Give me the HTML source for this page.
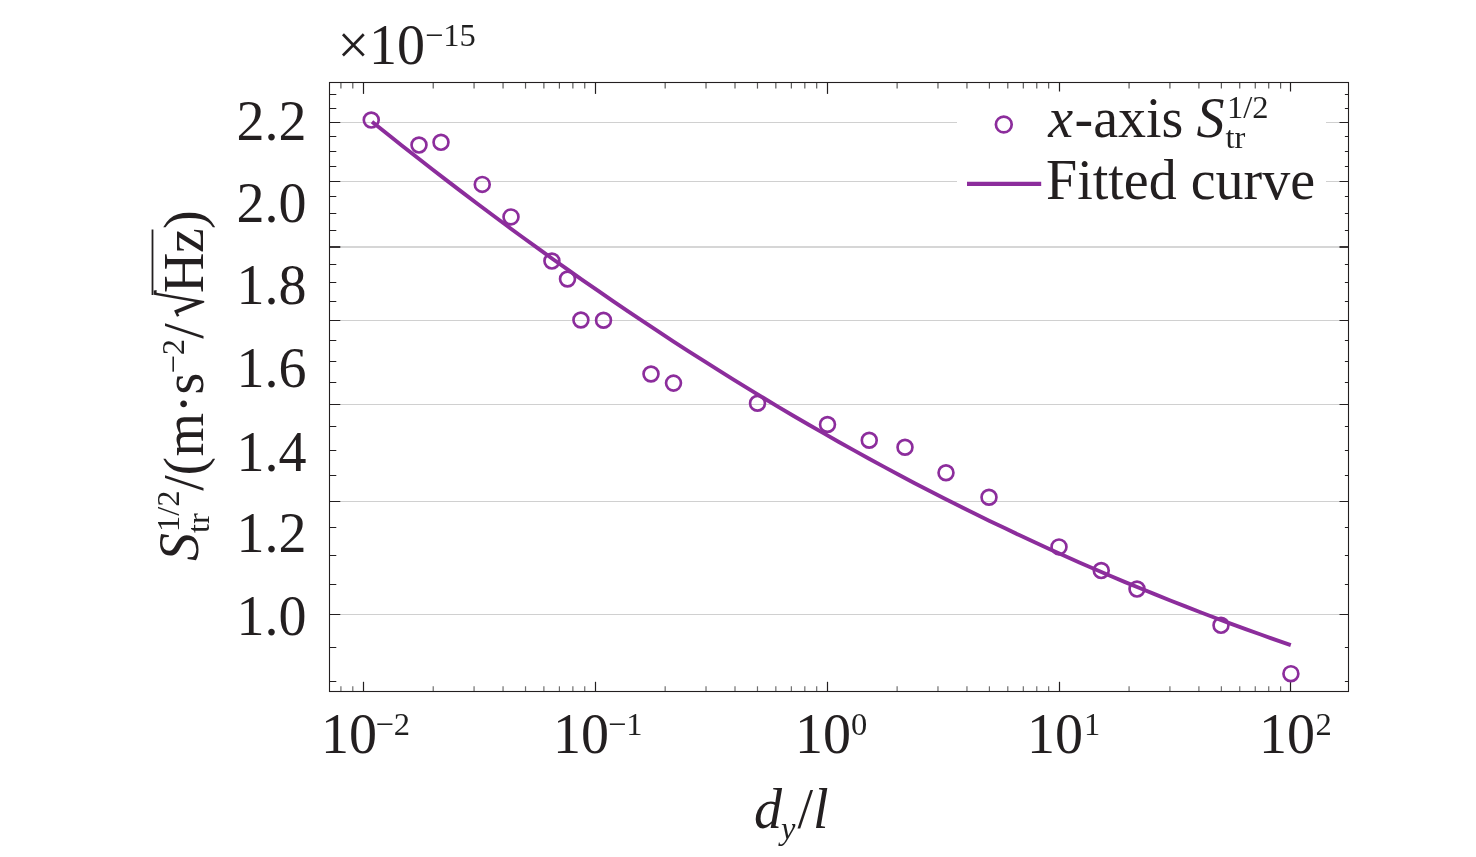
<!DOCTYPE html>
<html lang="en"><head><meta charset="utf-8"><title>Fitted curve plot</title>
<style>html,body{margin:0;padding:0;background:#fff;overflow:hidden}svg{display:block}text{font-family:"Liberation Serif","DejaVu Serif",serif;fill:#231f20;font-size:56px}.i{font-style:italic}.s{font-size:32.5px;filter:grayscale(1)}</style></head><body>
<svg width="1476" height="857" viewBox="0 0 1476 857">
<rect width="1476" height="857" fill="#fff"/>
<g stroke="#d0d0d0" stroke-width="1" fill="none">
<line x1="339.5" y1="122.5" x2="1340.5" y2="122.5"/>
<line x1="339.5" y1="181.5" x2="1340.5" y2="181.5"/>
<line x1="339.5" y1="320.5" x2="1340.5" y2="320.5"/>
<line x1="339.5" y1="404.5" x2="1340.5" y2="404.5"/>
<line x1="339.5" y1="501.5" x2="1340.5" y2="501.5"/>
<line x1="339.5" y1="614.5" x2="1340.5" y2="614.5"/>
<line x1="339.5" y1="247.00" x2="1340.5" y2="247.00" stroke-width="1.6" stroke="#c8c8c8"/>
</g>
<rect x="957" y="90" width="369" height="140" fill="#fff"/>
<g stroke="#231f20" stroke-width="1" fill="none">
<line x1="329.5" y1="681.5" x2="336.3" y2="681.5"/>
<line x1="1344.9" y1="681.5" x2="1348.5" y2="681.5"/>
<line x1="329.5" y1="647.5" x2="336.3" y2="647.5"/>
<line x1="1344.9" y1="647.5" x2="1348.5" y2="647.5"/>
<line x1="329.5" y1="614.5" x2="340.3" y2="614.5"/>
<line x1="1339.5" y1="614.5" x2="1348.5" y2="614.5"/>
<line x1="329.5" y1="584.5" x2="336.3" y2="584.5"/>
<line x1="1344.9" y1="584.5" x2="1348.5" y2="584.5"/>
<line x1="329.5" y1="555.5" x2="336.3" y2="555.5"/>
<line x1="1344.9" y1="555.5" x2="1348.5" y2="555.5"/>
<line x1="329.5" y1="527.5" x2="336.3" y2="527.5"/>
<line x1="1344.9" y1="527.5" x2="1348.5" y2="527.5"/>
<line x1="329.5" y1="501.5" x2="340.3" y2="501.5"/>
<line x1="1339.5" y1="501.5" x2="1348.5" y2="501.5"/>
<line x1="329.5" y1="475.5" x2="336.3" y2="475.5"/>
<line x1="1344.9" y1="475.5" x2="1348.5" y2="475.5"/>
<line x1="329.5" y1="450.5" x2="336.3" y2="450.5"/>
<line x1="1344.9" y1="450.5" x2="1348.5" y2="450.5"/>
<line x1="329.5" y1="426.5" x2="336.3" y2="426.5"/>
<line x1="1344.9" y1="426.5" x2="1348.5" y2="426.5"/>
<line x1="329.5" y1="404.5" x2="340.3" y2="404.5"/>
<line x1="1339.5" y1="404.5" x2="1348.5" y2="404.5"/>
<line x1="329.5" y1="382.5" x2="336.3" y2="382.5"/>
<line x1="1344.9" y1="382.5" x2="1348.5" y2="382.5"/>
<line x1="329.5" y1="361.5" x2="336.3" y2="361.5"/>
<line x1="1344.9" y1="361.5" x2="1348.5" y2="361.5"/>
<line x1="329.5" y1="340.5" x2="336.3" y2="340.5"/>
<line x1="1344.9" y1="340.5" x2="1348.5" y2="340.5"/>
<line x1="329.5" y1="320.5" x2="340.3" y2="320.5"/>
<line x1="1339.5" y1="320.5" x2="1348.5" y2="320.5"/>
<line x1="329.5" y1="301.5" x2="336.3" y2="301.5"/>
<line x1="1344.9" y1="301.5" x2="1348.5" y2="301.5"/>
<line x1="329.5" y1="282.5" x2="336.3" y2="282.5"/>
<line x1="1344.9" y1="282.5" x2="1348.5" y2="282.5"/>
<line x1="329.5" y1="264.5" x2="336.3" y2="264.5"/>
<line x1="1344.9" y1="264.5" x2="1348.5" y2="264.5"/>
<line x1="329.5" y1="247.00" x2="340.3" y2="247.00" stroke-width="1.8"/>
<line x1="1339.5" y1="247.00" x2="1348.5" y2="247.00" stroke-width="1.8"/>
<line x1="329.5" y1="230.5" x2="336.3" y2="230.5"/>
<line x1="1344.9" y1="230.5" x2="1348.5" y2="230.5"/>
<line x1="329.5" y1="213.5" x2="336.3" y2="213.5"/>
<line x1="1344.9" y1="213.5" x2="1348.5" y2="213.5"/>
<line x1="329.5" y1="196.5" x2="336.3" y2="196.5"/>
<line x1="1344.9" y1="196.5" x2="1348.5" y2="196.5"/>
<line x1="329.5" y1="181.5" x2="340.3" y2="181.5"/>
<line x1="1339.5" y1="181.5" x2="1348.5" y2="181.5"/>
<line x1="329.5" y1="166.5" x2="336.3" y2="166.5"/>
<line x1="1344.9" y1="166.5" x2="1348.5" y2="166.5"/>
<line x1="329.5" y1="151.5" x2="336.3" y2="151.5"/>
<line x1="1344.9" y1="151.5" x2="1348.5" y2="151.5"/>
<line x1="329.5" y1="136.5" x2="336.3" y2="136.5"/>
<line x1="1344.9" y1="136.5" x2="1348.5" y2="136.5"/>
<line x1="329.5" y1="122.5" x2="340.3" y2="122.5"/>
<line x1="1339.5" y1="122.5" x2="1348.5" y2="122.5"/>
<line x1="329.5" y1="108.5" x2="336.3" y2="108.5"/>
<line x1="1344.9" y1="108.5" x2="1348.5" y2="108.5"/>
<line x1="329.5" y1="94.5" x2="336.3" y2="94.5"/>
<line x1="1344.9" y1="94.5" x2="1348.5" y2="94.5"/>
<line x1="340.92" y1="82.5" x2="340.92" y2="88.6" stroke="#5a5a5a" stroke-width="1.2"/>
<line x1="340.92" y1="686.3" x2="340.92" y2="691.5" stroke="#707070" stroke-width="1.2"/>
<line x1="352.79" y1="82.5" x2="352.79" y2="88.6" stroke="#5a5a5a" stroke-width="1.2"/>
<line x1="352.79" y1="686.3" x2="352.79" y2="691.5" stroke="#707070" stroke-width="1.2"/>
<line x1="363.5" y1="82.5" x2="363.5" y2="93.9" stroke-width="1.2"/>
<line x1="363.5" y1="681.8" x2="363.5" y2="691.5" stroke-width="1.2"/>
<line x1="433.22" y1="82.5" x2="433.22" y2="88.6" stroke="#5a5a5a" stroke-width="1.2"/>
<line x1="433.22" y1="686.3" x2="433.22" y2="691.5" stroke="#707070" stroke-width="1.2"/>
<line x1="474.07" y1="82.5" x2="474.07" y2="88.6" stroke="#5a5a5a" stroke-width="1.2"/>
<line x1="474.07" y1="686.3" x2="474.07" y2="691.5" stroke="#707070" stroke-width="1.2"/>
<line x1="503.05" y1="82.5" x2="503.05" y2="88.6" stroke="#5a5a5a" stroke-width="1.2"/>
<line x1="503.05" y1="686.3" x2="503.05" y2="691.5" stroke="#707070" stroke-width="1.2"/>
<line x1="525.53" y1="82.5" x2="525.53" y2="88.6" stroke="#5a5a5a" stroke-width="1.2"/>
<line x1="525.53" y1="686.3" x2="525.53" y2="691.5" stroke="#707070" stroke-width="1.2"/>
<line x1="543.89" y1="82.5" x2="543.89" y2="88.6" stroke="#5a5a5a" stroke-width="1.2"/>
<line x1="543.89" y1="686.3" x2="543.89" y2="691.5" stroke="#707070" stroke-width="1.2"/>
<line x1="559.42" y1="82.5" x2="559.42" y2="88.6" stroke="#5a5a5a" stroke-width="1.2"/>
<line x1="559.42" y1="686.3" x2="559.42" y2="691.5" stroke="#707070" stroke-width="1.2"/>
<line x1="572.87" y1="82.5" x2="572.87" y2="88.6" stroke="#5a5a5a" stroke-width="1.2"/>
<line x1="572.87" y1="686.3" x2="572.87" y2="691.5" stroke="#707070" stroke-width="1.2"/>
<line x1="584.74" y1="82.5" x2="584.74" y2="88.6" stroke="#5a5a5a" stroke-width="1.2"/>
<line x1="584.74" y1="686.3" x2="584.74" y2="691.5" stroke="#707070" stroke-width="1.2"/>
<line x1="595.5" y1="82.5" x2="595.5" y2="93.9" stroke-width="1.2"/>
<line x1="595.5" y1="681.8" x2="595.5" y2="691.5" stroke-width="1.2"/>
<line x1="665.17" y1="82.5" x2="665.17" y2="88.6" stroke="#5a5a5a" stroke-width="1.2"/>
<line x1="665.17" y1="686.3" x2="665.17" y2="691.5" stroke="#707070" stroke-width="1.2"/>
<line x1="706.02" y1="82.5" x2="706.02" y2="88.6" stroke="#5a5a5a" stroke-width="1.2"/>
<line x1="706.02" y1="686.3" x2="706.02" y2="691.5" stroke="#707070" stroke-width="1.2"/>
<line x1="735.00" y1="82.5" x2="735.00" y2="88.6" stroke="#5a5a5a" stroke-width="1.2"/>
<line x1="735.00" y1="686.3" x2="735.00" y2="691.5" stroke="#707070" stroke-width="1.2"/>
<line x1="757.48" y1="82.5" x2="757.48" y2="88.6" stroke="#5a5a5a" stroke-width="1.2"/>
<line x1="757.48" y1="686.3" x2="757.48" y2="691.5" stroke="#707070" stroke-width="1.2"/>
<line x1="775.84" y1="82.5" x2="775.84" y2="88.6" stroke="#5a5a5a" stroke-width="1.2"/>
<line x1="775.84" y1="686.3" x2="775.84" y2="691.5" stroke="#707070" stroke-width="1.2"/>
<line x1="791.37" y1="82.5" x2="791.37" y2="88.6" stroke="#5a5a5a" stroke-width="1.2"/>
<line x1="791.37" y1="686.3" x2="791.37" y2="691.5" stroke="#707070" stroke-width="1.2"/>
<line x1="804.82" y1="82.5" x2="804.82" y2="88.6" stroke="#5a5a5a" stroke-width="1.2"/>
<line x1="804.82" y1="686.3" x2="804.82" y2="691.5" stroke="#707070" stroke-width="1.2"/>
<line x1="816.69" y1="82.5" x2="816.69" y2="88.6" stroke="#5a5a5a" stroke-width="1.2"/>
<line x1="816.69" y1="686.3" x2="816.69" y2="691.5" stroke="#707070" stroke-width="1.2"/>
<line x1="827.5" y1="82.5" x2="827.5" y2="93.9" stroke-width="1.2"/>
<line x1="827.5" y1="681.8" x2="827.5" y2="691.5" stroke-width="1.2"/>
<line x1="897.12" y1="82.5" x2="897.12" y2="88.6" stroke="#5a5a5a" stroke-width="1.2"/>
<line x1="897.12" y1="686.3" x2="897.12" y2="691.5" stroke="#707070" stroke-width="1.2"/>
<line x1="937.97" y1="82.5" x2="937.97" y2="88.6" stroke="#5a5a5a" stroke-width="1.2"/>
<line x1="937.97" y1="686.3" x2="937.97" y2="691.5" stroke="#707070" stroke-width="1.2"/>
<line x1="966.95" y1="82.5" x2="966.95" y2="88.6" stroke="#5a5a5a" stroke-width="1.2"/>
<line x1="966.95" y1="686.3" x2="966.95" y2="691.5" stroke="#707070" stroke-width="1.2"/>
<line x1="989.43" y1="82.5" x2="989.43" y2="88.6" stroke="#5a5a5a" stroke-width="1.2"/>
<line x1="989.43" y1="686.3" x2="989.43" y2="691.5" stroke="#707070" stroke-width="1.2"/>
<line x1="1007.79" y1="82.5" x2="1007.79" y2="88.6" stroke="#5a5a5a" stroke-width="1.2"/>
<line x1="1007.79" y1="686.3" x2="1007.79" y2="691.5" stroke="#707070" stroke-width="1.2"/>
<line x1="1023.32" y1="82.5" x2="1023.32" y2="88.6" stroke="#5a5a5a" stroke-width="1.2"/>
<line x1="1023.32" y1="686.3" x2="1023.32" y2="691.5" stroke="#707070" stroke-width="1.2"/>
<line x1="1036.77" y1="82.5" x2="1036.77" y2="88.6" stroke="#5a5a5a" stroke-width="1.2"/>
<line x1="1036.77" y1="686.3" x2="1036.77" y2="691.5" stroke="#707070" stroke-width="1.2"/>
<line x1="1048.64" y1="82.5" x2="1048.64" y2="88.6" stroke="#5a5a5a" stroke-width="1.2"/>
<line x1="1048.64" y1="686.3" x2="1048.64" y2="691.5" stroke="#707070" stroke-width="1.2"/>
<line x1="1059.5" y1="82.5" x2="1059.5" y2="91.5" stroke-width="1.2"/>
<line x1="1059.5" y1="681.8" x2="1059.5" y2="691.5" stroke-width="1.2"/>
<line x1="1129.07" y1="82.5" x2="1129.07" y2="88.6" stroke="#5a5a5a" stroke-width="1.2"/>
<line x1="1129.07" y1="686.3" x2="1129.07" y2="691.5" stroke="#707070" stroke-width="1.2"/>
<line x1="1169.92" y1="82.5" x2="1169.92" y2="88.6" stroke="#5a5a5a" stroke-width="1.2"/>
<line x1="1169.92" y1="686.3" x2="1169.92" y2="691.5" stroke="#707070" stroke-width="1.2"/>
<line x1="1198.90" y1="82.5" x2="1198.90" y2="88.6" stroke="#5a5a5a" stroke-width="1.2"/>
<line x1="1198.90" y1="686.3" x2="1198.90" y2="691.5" stroke="#707070" stroke-width="1.2"/>
<line x1="1221.38" y1="82.5" x2="1221.38" y2="88.6" stroke="#5a5a5a" stroke-width="1.2"/>
<line x1="1221.38" y1="686.3" x2="1221.38" y2="691.5" stroke="#707070" stroke-width="1.2"/>
<line x1="1239.74" y1="82.5" x2="1239.74" y2="88.6" stroke="#5a5a5a" stroke-width="1.2"/>
<line x1="1239.74" y1="686.3" x2="1239.74" y2="691.5" stroke="#707070" stroke-width="1.2"/>
<line x1="1255.27" y1="82.5" x2="1255.27" y2="88.6" stroke="#5a5a5a" stroke-width="1.2"/>
<line x1="1255.27" y1="686.3" x2="1255.27" y2="691.5" stroke="#707070" stroke-width="1.2"/>
<line x1="1268.72" y1="82.5" x2="1268.72" y2="88.6" stroke="#5a5a5a" stroke-width="1.2"/>
<line x1="1268.72" y1="686.3" x2="1268.72" y2="691.5" stroke="#707070" stroke-width="1.2"/>
<line x1="1280.59" y1="82.5" x2="1280.59" y2="88.6" stroke="#5a5a5a" stroke-width="1.2"/>
<line x1="1280.59" y1="686.3" x2="1280.59" y2="691.5" stroke="#707070" stroke-width="1.2"/>
<line x1="1290.5" y1="82.5" x2="1290.5" y2="91.5" stroke-width="1.2"/>
<line x1="1290.5" y1="681.8" x2="1290.5" y2="691.5" stroke-width="1.2"/>
</g>
<rect x="329.5" y="82.5" width="1019.0" height="609.0" fill="none" stroke="#231f20" stroke-width="1.1"/>
<path d="M372.0 121.7 L387.1 133.7 L402.1 145.7 L417.2 157.5 L432.2 169.2 L447.3 180.9 L462.4 192.4 L477.4 203.7 L492.5 215.0 L507.6 226.2 L522.6 237.2 L537.7 248.2 L552.7 259.0 L567.8 269.7 L582.9 280.3 L597.9 290.7 L613.0 301.1 L628.1 311.3 L643.1 321.4 L658.2 331.4 L673.2 341.3 L688.3 351.1 L703.4 360.7 L718.4 370.2 L733.5 379.6 L748.6 388.9 L763.6 398.0 L778.7 407.1 L793.7 416.0 L808.8 424.7 L823.9 433.4 L838.9 442.0 L854.0 450.4 L869.1 458.7 L884.1 466.9 L899.2 475.0 L914.2 482.9 L929.3 490.7 L944.4 498.5 L959.4 506.1 L974.5 513.5 L989.6 520.9 L1004.6 528.1 L1019.7 535.3 L1034.7 542.3 L1049.8 549.2 L1064.9 556.0 L1079.9 562.7 L1095.0 569.3 L1110.1 575.7 L1125.1 582.1 L1140.2 588.3 L1155.2 594.4 L1170.3 600.5 L1185.4 606.4 L1200.4 612.2 L1215.5 618.0 L1230.6 623.6 L1245.6 629.1 L1260.7 634.5 L1275.7 639.9 L1290.8 645.1" fill="none" stroke="#8c2d9c" stroke-width="3.9" stroke-linejoin="round"/>
<g fill="none" stroke="#8c2d9c" stroke-width="2.65">
<circle cx="371.25" cy="120.00" r="7.45"/>
<circle cx="419.00" cy="145.00" r="7.45"/>
<circle cx="441.00" cy="142.25" r="7.45"/>
<circle cx="482.25" cy="184.40" r="7.45"/>
<circle cx="511.00" cy="216.90" r="7.45"/>
<circle cx="551.90" cy="261.00" r="7.45"/>
<circle cx="567.50" cy="279.00" r="7.45"/>
<circle cx="580.90" cy="320.00" r="7.45"/>
<circle cx="603.50" cy="320.25" r="7.45"/>
<circle cx="651.00" cy="374.00" r="7.45"/>
<circle cx="673.50" cy="383.10" r="7.45"/>
<circle cx="757.50" cy="403.25" r="7.45"/>
<circle cx="827.50" cy="424.50" r="7.45"/>
<circle cx="869.25" cy="440.25" r="7.45"/>
<circle cx="905.00" cy="447.25" r="7.45"/>
<circle cx="946.00" cy="472.75" r="7.45"/>
<circle cx="989.00" cy="497.25" r="7.45"/>
<circle cx="1059.00" cy="546.90" r="7.45"/>
<circle cx="1101.25" cy="570.50" r="7.45"/>
<circle cx="1137.00" cy="589.00" r="7.45"/>
<circle cx="1221.00" cy="625.25" r="7.45"/>
<circle cx="1290.90" cy="673.70" r="7.45"/>
</g>
<circle cx="1003.8" cy="124.5" r="7.9" fill="none" stroke="#8c2d9c" stroke-width="2.7"/>
<line x1="967" y1="183.8" x2="1041.2" y2="183.8" stroke="#8c2d9c" stroke-width="4.2"/>
<text x="1048.20" y="137.00" class="i">x</text>
<text x="1074.50" y="137.00">-axis</text>
<text x="1196.50" y="137.00" class="i">S</text>
<text x="1227.00" y="118.20" class="s">1/2</text>
<text x="1225.50" y="147.80" class="s">tr</text>
<text x="1046.00" y="199.00">Fitted curve</text>
<text x="337.50" y="64.40">×10</text>
<text x="425.00" y="46.30" class="s">−15</text>
<text x="236.50" y="140.10">2.2</text>
<text x="236.50" y="221.70">2.0</text>
<text x="236.50" y="304.30">1.8</text>
<text x="236.50" y="386.80">1.6</text>
<text x="236.50" y="470.50">1.4</text>
<text x="236.50" y="552.20">1.2</text>
<text x="236.50" y="635.20">1.0</text>
<text x="321.00" y="753.30">10</text>
<text x="375.50" y="735.00" class="s">−2</text>
<text x="553.00" y="753.30">10</text>
<text x="608.00" y="735.00" class="s">−1</text>
<text x="795.00" y="753.30">10</text>
<text x="851.00" y="735.00" class="s">0</text>
<text x="1027.00" y="753.30">10</text>
<text x="1084.00" y="735.00" class="s">1</text>
<text x="1259.00" y="753.30">10</text>
<text x="1315.50" y="735.00" class="s">2</text>
<text x="754.00" y="827.50" class="i">d</text>
<text x="781.00" y="839.00" class="i s">y</text>
<text x="797.60" y="827.50">/</text>
<text x="813.00" y="827.50" class="i">l</text>
<g transform="translate(203,560) rotate(-90)">
<text x="-1.00" y="-5.20" class="i">S</text>
<text x="28.00" y="-24.10" class="s">1/2</text>
<text x="27.00" y="6.40" class="s">tr</text>
<text x="69.30" y="0.00">/</text>
<text x="84.50" y="0.00">(</text>
<text x="103.50" y="0.00">m</text>
<text x="146.70" y="0.00">·</text>
<text x="165.50" y="0.00">s</text>
<text x="186.50" y="-19.20" class="s">−2</text>
<text x="221.20" y="0.00">/</text>
<text transform="translate(245.1,0) matrix(0.857,0,0.132,1.085,0,0)" style="font-family:'DejaVu Serif',serif">√</text>
<line x1="265" y1="-50.5" x2="330.5" y2="-50.5" stroke="#231f20" stroke-width="1.8"/>
<text x="267.00" y="0.00">H</text>
<text x="307.00" y="0.00">z</text>
<text x="331.00" y="0.00">)</text>
</g>
</svg></body></html>
